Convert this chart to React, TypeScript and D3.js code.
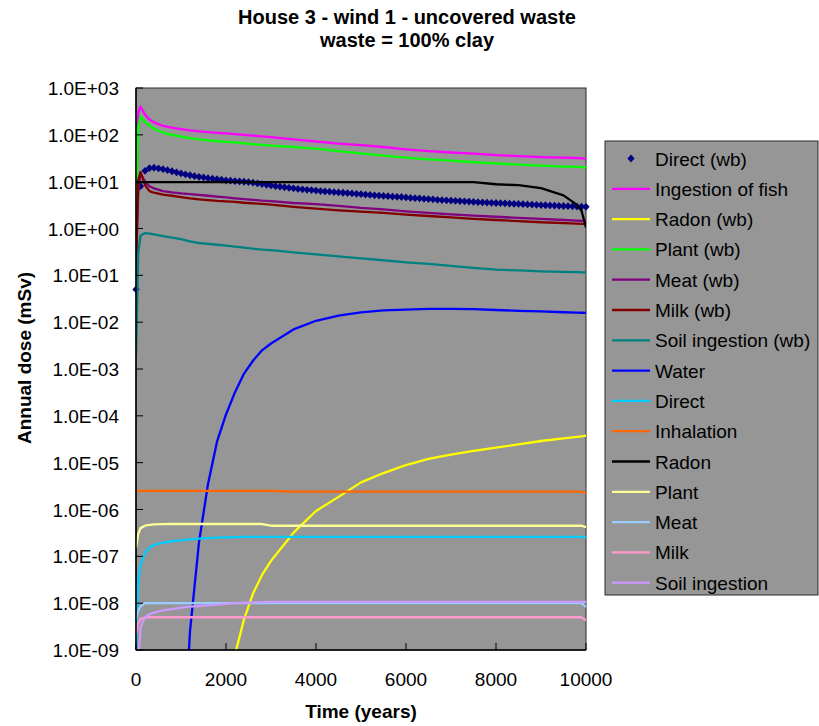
import React from "react";
import * as d3 from "d3";

// ---------- DATA ----------
const years = [0, 50, 100, 200, 300, 400, 600, 800, 1000, 1200, 1400, 1600, 1800, 2000, 2200, 2400, 2600, 2800, 3000, 3500, 4000, 4500, 5000, 5500, 6000, 6500, 7000, 7500, 8000, 8500, 9000, 9500, 9800, 9900, 10000];

const fishWb = [3, 300, 400, 270, 210, 185, 155, 142, 132, 124, 118, 114, 110, 107, 104, 100, 96, 93, 89, 80, 72, 65, 60, 55, 49, 45, 42, 39.5, 37, 35, 33.5, 32.5, 32, 31.5, 31];
const radonWb = [null, null, null, null, null, null, null, null, null, null, null, null, null, null, 8e-10, 4.5e-9, 1.6e-8, 4e-8, 8e-8, 3.2e-7, 9.3e-7, 1.86e-6, 3.8e-6, 6e-6, 8.9e-6, 1.2e-5, 1.48e-5, 1.78e-5, 2.1e-5, 2.45e-5, 2.9e-5, 3.3e-5, 3.55e-5, 3.65e-5, 3.8e-5];
const plantWb = [1.5, 150, 250, 190, 158, 135, 112, 100, 92, 85, 80, 76, 73, 71, 69, 66, 63, 61, 59, 55, 51, 45, 40, 36, 32.5, 30, 28, 26, 24.5, 23, 22, 21, 20.7, 20.5, 20.3];
const meatWb = [0.3, 6, 15, 10, 8, 7.2, 6.3, 5.9, 5.6, 5.4, 5.2, 5.0, 4.8, 4.6, 4.4, 4.25, 4.1, 3.95, 3.85, 3.5, 3.3, 3.05, 2.75, 2.55, 2.33, 2.15, 2.0, 1.88, 1.78, 1.68, 1.6, 1.52, 1.48, 1.46, 1.45];
const milkWb = [0.1, 11, 16, 8.5, 6.3, 5.8, 5.3, 5.0, 4.7, 4.4, 4.2, 4.05, 3.9, 3.8, 3.7, 3.55, 3.45, 3.35, 3.25, 2.9, 2.65, 2.45, 2.3, 2.15, 1.98, 1.85, 1.72, 1.6, 1.52, 1.44, 1.36, 1.3, 1.27, 1.26, 1.25];
const soilWb = [2e-3, 0.3, 0.7, 0.8, 0.78, 0.75, 0.69, 0.64, 0.59, 0.53, 0.49, 0.47, 0.45, 0.43, 0.41, 0.39, 0.37, 0.355, 0.345, 0.31, 0.28, 0.255, 0.23, 0.21, 0.19, 0.175, 0.16, 0.145, 0.133, 0.127, 0.122, 0.118, 0.117, 0.116, 0.116];
const water = [null, null, null, null, null, null, null, null, 1e-12, 2.5e-9, 2e-7, 3.5e-6, 2.8e-5, 1.07e-4, 3.2e-4, 8e-4, 1.5e-3, 2.5e-3, 3.5e-3, 7e-3, 0.0107, 0.0138, 0.0162, 0.0178, 0.0186, 0.0192, 0.0193, 0.019, 0.0182, 0.0175, 0.017, 0.0163, 0.016, 0.0159, 0.0158];
const direct = [9e-10, 3e-8, 6.5e-8, 1.2e-7, 1.55e-7, 1.75e-7, 1.95e-7, 2.1e-7, 2.2e-7, 2.3e-7, 2.4e-7, 2.45e-7, 2.5e-7, 2.55e-7, 2.58e-7, 2.6e-7, 2.6e-7, 2.6e-7, 2.6e-7, 2.6e-7, 2.6e-7, 2.6e-7, 2.6e-7, 2.6e-7, 2.6e-7, 2.6e-7, 2.6e-7, 2.6e-7, 2.6e-7, 2.6e-7, 2.6e-7, 2.6e-7, 2.6e-7, 2.6e-7, 2.55e-7];
const inhalation = [2.5e-6, 2.5e-6, 2.5e-6, 2.5e-6, 2.5e-6, 2.5e-6, 2.5e-6, 2.5e-6, 2.5e-6, 2.5e-6, 2.5e-6, 2.5e-6, 2.5e-6, 2.5e-6, 2.5e-6, 2.5e-6, 2.5e-6, 2.5e-6, 2.5e-6, 2.42e-6, 2.42e-6, 2.42e-6, 2.42e-6, 2.42e-6, 2.42e-6, 2.42e-6, 2.42e-6, 2.42e-6, 2.42e-6, 2.42e-6, 2.42e-6, 2.42e-6, 2.42e-6, 2.42e-6, 2.2e-6];
const radon = [9.8, 9.8, 9.8, 9.8, 9.8, 9.8, 9.8, 9.8, 9.8, 9.8, 9.8, 9.8, 9.8, 9.8, 9.8, 9.8, 9.8, 9.8, 9.8, 9.8, 9.8, 9.8, 9.8, 9.8, 9.8, 9.8, 9.8, 9.8, 8.8, 8.4, 7.3, 5.1, 3.2, 2.4, 1.05];
const plant = [1.5e-7, 3e-7, 4e-7, 4.5e-7, 4.7e-7, 4.8e-7, 4.85e-7, 4.9e-7, 4.9e-7, 4.9e-7, 4.9e-7, 4.9e-7, 4.9e-7, 4.9e-7, 4.9e-7, 4.9e-7, 4.9e-7, 4.9e-7, 4.5e-7, 4.5e-7, 4.5e-7, 4.5e-7, 4.5e-7, 4.5e-7, 4.5e-7, 4.5e-7, 4.5e-7, 4.5e-7, 4.5e-7, 4.5e-7, 4.5e-7, 4.5e-7, 4.5e-7, 4.5e-7, 4.2e-7];
const meat = [4.4e-9, 7e-9, 8.5e-9, 1e-8, 1e-8, 1e-8, 1e-8, 1e-8, 1e-8, 1e-8, 1e-8, 1e-8, 1e-8, 1e-8, 1e-8, 1e-8, 1e-8, 1e-8, 1e-8, 1e-8, 1e-8, 1e-8, 1e-8, 1e-8, 1e-8, 1e-8, 1e-8, 1e-8, 1e-8, 1e-8, 1e-8, 1e-8, 1e-8, 1e-8, 8.3e-9];
const milk = [2.1e-9, 3.8e-9, 4.6e-9, 4.9e-9, 5e-9, 5e-9, 5e-9, 5e-9, 5e-9, 5e-9, 5e-9, 5e-9, 5e-9, 5e-9, 5e-9, 5e-9, 5e-9, 5e-9, 5e-9, 5e-9, 5e-9, 5e-9, 5e-9, 5e-9, 5e-9, 5e-9, 5e-9, 5e-9, 5e-9, 5e-9, 5e-9, 5e-9, 5e-9, 5e-9, 4.3e-9];
const soil = [1e-10, 5e-10, 3e-9, 5e-9, 5.8e-9, 6.3e-9, 7e-9, 7.5e-9, 8e-9, 8.4e-9, 8.7e-9, 9e-9, 9.3e-9, 9.7e-9, 1e-8, 1.02e-8, 1.04e-8, 1.05e-8, 1.07e-8, 1.07e-8, 1.07e-8, 1.07e-8, 1.07e-8, 1.07e-8, 1.07e-8, 1.07e-8, 1.07e-8, 1.07e-8, 1.07e-8, 1.07e-8, 1.07e-8, 1.07e-8, 1.07e-8, 1.07e-8, 1.07e-8];

// Direct (wb): markers every 100 years
const directWbYears = d3.range(0, 10001, 100);
const directWb = [
  0.05, 8, 17, 19.5, 19.8, 19.2, 18.5, 17.6, 16.7, 15.8,
  15.0, 14.3, 13.7, 13.1, 12.7, 12.3, 11.9, 11.6, 11.3, 11.0,
  10.7, 10.5, 10.3, 10.1, 9.95, 9.8, 9.5, 9.2, 8.9, 8.6,
  8.3, 8.0, 7.8, 7.6, 7.4, 7.2, 7.0, 6.85, 6.7, 6.6,
  6.45, 6.3, 6.2, 6.1, 6.0, 5.9, 5.8, 5.7, 5.6, 5.5,
  5.4, 5.3, 5.2, 5.1, 5.05, 4.95, 4.9, 4.8, 4.75, 4.7,
  4.6, 4.5, 4.45, 4.4, 4.3, 4.25, 4.2, 4.1, 4.05, 4.0,
  3.95, 3.9, 3.85, 3.8, 3.75, 3.7, 3.65, 3.6, 3.57, 3.53,
  3.5, 3.47, 3.44, 3.4, 3.37, 3.34, 3.3, 3.27, 3.24, 3.2,
  3.17, 3.14, 3.11, 3.08, 3.05, 3.02, 3.0, 2.97, 2.94, 2.92,
  2.9,
];

const seriesNames = ["Direct (wb)", "Ingestion of fish", "Radon (wb)", "Plant (wb)", "Meat (wb)", "Milk (wb)", "Soil ingestion (wb)", "Water", "Direct", "Inhalation", "Radon", "Plant", "Meat", "Milk", "Soil ingestion"];
const seriesColors = ["#000080", "#FF00FF", "#FFFF00", "#00FF00", "#800080", "#800000", "#008080", "#0000FF", "#00CCFF", "#FF6600", "#000000", "#FFFF99", "#99CCFF", "#FF99CC", "#CC99FF"];
const lineSeries = [null, fishWb, radonWb, plantWb, meatWb, milkWb, soilWb, water, direct, inhalation, radon, plant, meat, milk, soil];

const xTicks = [0, 2000, 4000, 6000, 8000, 10000];
const yTicks = [1e-9, 1e-8, 1e-7, 1e-6, 1e-5, 1e-4, 1e-3, 1e-2, 1e-1, 1e0, 1e1, 1e2, 1e3];

const titleLines = ["House 3 - wind 1 - uncovered waste", "waste = 100% clay"];
const xTitle = "Time (years)";
const yTitle = "Annual dose (mSv)";

// ---------- LAYOUT ----------
const W = 819, H = 726;
const PL = 136, PR = 586, PT = 88, PB = 650;
const FONT = "'Liberation Sans', Arial, Helvetica, sans-serif";
const PLOT_BG = "#969696";

function fmtExp(v: number) {
  const e = Math.round(Math.log10(v));
  const s = e < 0 ? "-" : "+";
  const a = Math.abs(e);
  return `1.0E${s}${a < 10 ? "0" + a : a}`;
}

export default function App() {
  const x = d3.scaleLinear().domain([0, 10000]).range([PL, PR]);
  const y = d3.scaleLog().domain([1e-9, 1e3]).range([PB, PT]);

  const line = d3
    .line<[number, number | null]>()
    .defined((d) => d[1] != null && (d[1] as number) > 0)
    .x((d) => x(d[0]))
    .y((d) => y(d[1] as number));

  const diamond = "M0,-3.9L3.6,0L0,3.9L-3.6,0Z";

  const legX = 605, legY = 141, legW = 213, legH = 454;
  const legRow0 = 158.5, legStep = 30.3;

  return (
    <svg width={W} height={H} style={{ position: "absolute", left: 0, top: 0, background: "#fff" }} fontFamily={FONT}>
      <defs>
        <clipPath id="plotClip">
          <rect x={PL} y={PT} width={PR - PL} height={PB - PT} />
        </clipPath>
      </defs>
      <rect x={0} y={0} width={W} height={H} fill="#fff" />

      {/* Title */}
      {titleLines.map((t, i) => (
        <text key={t} x={407} y={24 + i * 23} textAnchor="middle" fontWeight="bold" fontSize={20} fill="#000">
          {t}
        </text>
      ))}

      {/* Plot area */}
      <rect x={PL} y={PT} width={PR - PL} height={PB - PT} fill={PLOT_BG} stroke="#2a2a2a" strokeWidth={1} />

      {/* Direct (wb) markers */}
      <g fill={seriesColors[0]}>
        {directWb.map((v, i) => (
          <path key={i} d={diamond} transform={`translate(${x(directWbYears[i])},${y(v)})`} />
        ))}
      </g>

      {/* Lines */}
      <g clipPath="url(#plotClip)">
        {lineSeries.map((vals, si) =>
          vals ? (
            <path
              key={si}
              d={line(years.map((yr, i) => [yr, vals[i]] as [number, number | null])) || ""}
              fill="none"
              stroke={seriesColors[si]}
              strokeWidth={2.3}
              strokeLinejoin="round"
            />
          ) : null
        )}
      </g>

      {/* Axes */}
      <line x1={PL} x2={PL} y1={PT} y2={PB} stroke="#000" strokeWidth={1.5} />
      <line x1={PL} x2={PR} y1={PB} y2={PB} stroke="#000" strokeWidth={1.5} />
      {yTicks.map((t) => (
        <g key={t}>
          <line x1={PL} x2={PL + 7} y1={y(t)} y2={y(t)} stroke="#000" strokeWidth={1} />
          <text x={119} y={y(t) + 7} textAnchor="end" fontSize={19} fill="#000">
            {fmtExp(t)}
          </text>
        </g>
      ))}
      {xTicks.map((t) => (
        <g key={t}>
          <line x1={x(t)} x2={x(t)} y1={PB} y2={PB - 7} stroke="#000" strokeWidth={1} />
          <text x={x(t)} y={686} textAnchor="middle" fontSize={19} fill="#000">
            {t}
          </text>
        </g>
      ))}

      {/* Axis titles */}
      <text x={(PL + PR) / 2} y={718} textAnchor="middle" fontWeight="bold" fontSize={19} fill="#000">
        {xTitle}
      </text>
      <text transform={`translate(31,${358}) rotate(-90)`} textAnchor="middle" fontWeight="bold" fontSize={19} fill="#000">
        {yTitle}
      </text>

      {/* Legend */}
      <rect x={legX} y={legY} width={legW} height={legH} fill={PLOT_BG} stroke="#2a2a2a" strokeWidth={1} />
      {seriesNames.map((name, i) => {
        const cy = legRow0 + i * legStep;
        return (
          <g key={name}>
            {i === 0 ? (
              <path d={diamond} transform={`translate(631,${cy})`} fill={seriesColors[0]} />
            ) : (
              <line x1={612} x2={650} y1={cy} y2={cy} stroke={seriesColors[i]} strokeWidth={2.3} />
            )}
            <text x={655} y={cy + 7} fontSize={19} fill="#000">
              {name}
            </text>
          </g>
        );
      })}
    </svg>
  );
}
